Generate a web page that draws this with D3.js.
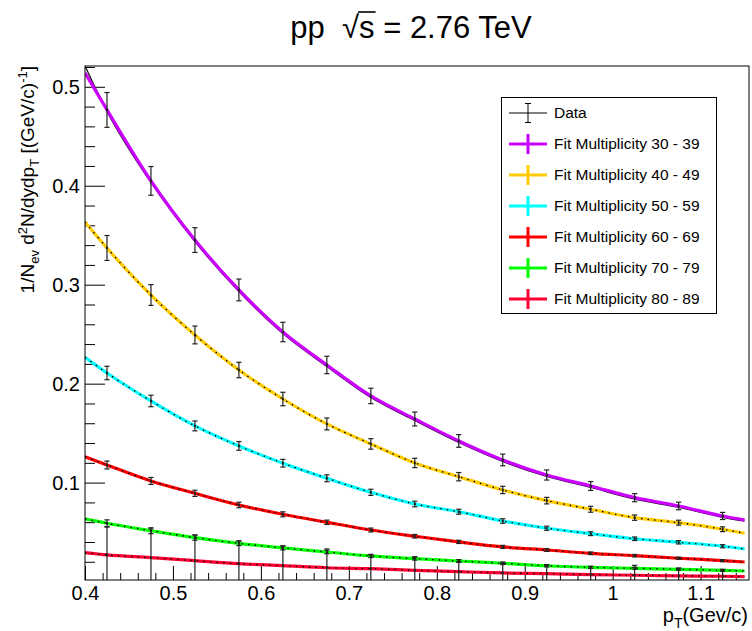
<!DOCTYPE html>
<html>
<head>
<meta charset="utf-8">
<script src="https://cdn.jsdelivr.net/npm/d3@7"></script>
<style>
  html, body { margin: 0; padding: 0; background: #fff; }
  svg { display: block; font-family: "Liberation Sans", Arial, Helvetica, sans-serif; }
</style>
</head>
<body>
<svg id="chart" width="752" height="631"></svg>
<script>
// transverse momentum bin centres of the measured points (GeV/c)
const pT = [0.425, 0.475, 0.525, 0.575, 0.625, 0.675, 0.725, 0.775, 0.825, 0.875, 0.925, 0.975, 1.025, 1.075, 1.125];
// abscissae at which the fitted functions are sampled
const fitPT = [0.4, 0.425, 0.475, 0.525, 0.575, 0.625, 0.675, 0.725, 0.775, 0.825, 0.875, 0.925, 0.975, 1.025, 1.075, 1.125, 1.15];

const multiplicityBins = ["30 - 39", "40 - 49", "50 - 59", "60 - 69", "70 - 79", "80 - 89"];

// measured yields and their uncertainties, one array per multiplicity class
const yield30 = [0.4766, 0.4049, 0.3451, 0.2947, 0.2522, 0.2189, 0.1876, 0.1643, 0.1421, 0.1229, 0.1077, 0.0966, 0.0848, 0.0764, 0.0663];
const err30   = [0.0176, 0.0145, 0.0125, 0.0110, 0.0098, 0.0088, 0.0078, 0.0070, 0.0064, 0.0059, 0.0051, 0.0045, 0.0041, 0.0038, 0.0036];
const yield40 = [0.3371, 0.2896, 0.2492, 0.2138, 0.1845, 0.1593, 0.1391, 0.1199, 0.1060, 0.0926, 0.0818, 0.0731, 0.0646, 0.0595, 0.0529];
const err40   = [0.0126, 0.0105, 0.0090, 0.0078, 0.0068, 0.0060, 0.0053, 0.0047, 0.0042, 0.0037, 0.0033, 0.0030, 0.0027, 0.0025, 0.0024];
const yield50 = [0.2108, 0.1825, 0.1573, 0.1371, 0.1196, 0.1044, 0.0902, 0.0784, 0.0706, 0.0612, 0.0539, 0.0484, 0.0433, 0.0397, 0.0357];
const err50   = [0.0068, 0.0058, 0.0050, 0.0044, 0.0039, 0.0035, 0.0031, 0.0028, 0.0025, 0.0023, 0.0021, 0.0019, 0.0018, 0.0017, 0.0016];
const yield60 = [0.1178, 0.1017, 0.0892, 0.0774, 0.0680, 0.0599, 0.0521, 0.0458, 0.0401, 0.0351, 0.0319, 0.0286, 0.0262, 0.0236, 0.0212];
const err60   = [0.0040, 0.0035, 0.0031, 0.0028, 0.0025, 0.0022, 0.0020, 0.0018, 0.0016, 0.0015, 0.0014, 0.0013, 0.0012, 0.0011, 0.0010];
const yield70 = [0.0589, 0.0514, 0.0444, 0.0387, 0.0340, 0.0299, 0.0259, 0.0232, 0.0208, 0.0185, 0.0160, 0.0144, 0.0134, 0.0124, 0.0114];
const err70   = [0.0035, 0.0030, 0.0026, 0.0023, 0.0020, 0.0018, 0.0016, 0.0015, 0.0014, 0.0013, 0.0012, 0.0011, 0.0010, 0.0010, 0.0010];
const yield80 = [0.0269, 0.0242, 0.0211, 0.0181, 0.0161, 0.0140, 0.0130, 0.0114, 0.0100, 0.0087, 0.0080, 0.0070, 0.0064, 0.0057, 0.0054];
const err80   = [0.0283, 0.0290, 0.0260, 0.0230, 0.0200, 0.0190, 0.0139, 0.0138, 0.0100, 0.0098, 0.0088, 0.0080, 0.0100, 0.0080, 0.0063];

// fitted functions sampled at fitPT
const fit30 = [0.5140, 0.4766, 0.4049, 0.3451, 0.2947, 0.2522, 0.2189, 0.1876, 0.1643, 0.1421, 0.1229, 0.1077, 0.0966, 0.0848, 0.0764, 0.0663, 0.0623];
const fit40 = [0.3634, 0.3371, 0.2896, 0.2492, 0.2138, 0.1845, 0.1593, 0.1391, 0.1199, 0.1060, 0.0926, 0.0818, 0.0731, 0.0646, 0.0595, 0.0529, 0.0488];
const fit50 = [0.2267, 0.2108, 0.1825, 0.1573, 0.1371, 0.1196, 0.1044, 0.0902, 0.0784, 0.0706, 0.0612, 0.0539, 0.0484, 0.0433, 0.0397, 0.0357, 0.0329];
const fit60 = [0.1262, 0.1178, 0.1017, 0.0892, 0.0774, 0.0680, 0.0599, 0.0521, 0.0458, 0.0401, 0.0351, 0.0319, 0.0286, 0.0262, 0.0236, 0.0212, 0.0198];
const fit70 = [0.0633, 0.0589, 0.0514, 0.0444, 0.0387, 0.0340, 0.0299, 0.0259, 0.0232, 0.0208, 0.0185, 0.0160, 0.0144, 0.0134, 0.0124, 0.0114, 0.0107];
const fit80 = [0.0292, 0.0269, 0.0242, 0.0211, 0.0181, 0.0161, 0.0140, 0.0130, 0.0114, 0.0100, 0.0087, 0.0080, 0.0070, 0.0064, 0.0057, 0.0054, 0.0050];
// reference curve drawn in black just under the 30-39 fit
const ref30 = [0.5210, 0.4752, 0.4033, 0.3435, 0.2932, 0.2507, 0.2174, 0.1861, 0.1628, 0.1406, 0.1214, 0.1062, 0.0951, 0.0834, 0.0750, 0.0650, 0.0610];

const xTicks = [0.4, 0.5, 0.6, 0.7, 0.8, 0.9, 1.0, 1.1];
const xTickLabels = ["0.4", "0.5", "0.6", "0.7", "0.8", "0.9", "1", "1.1"];
const yTicks = [0.1, 0.2, 0.3, 0.4, 0.5];
const yTickLabels = ["0.1", "0.2", "0.3", "0.4", "0.5"];

const seriesColors = ["#cc00ff", "#ffcc00", "#00ffff", "#ff0000", "#00ff00", "#ff0033"];
const yields = [yield30, yield40, yield50, yield60, yield70, yield80];
const errors = [err30, err40, err50, err60, err70, err80];
const fits = [fit30, fit40, fit50, fit60, fit70, fit80];

const svg = d3.select("#chart");
const frame = { left: 85, top: 66, right: 749, bottom: 580 };

const x = d3.scaleLinear().domain([0.4, 1.155]).range([frame.left, frame.right]);
const y = d3.scaleLinear().domain([0.0016, 0.521]).range([frame.bottom, frame.top]);

svg.append("defs").append("clipPath").attr("id", "plot-area")
  .append("rect")
  .attr("x", frame.left).attr("y", frame.top)
  .attr("width", frame.right - frame.left).attr("height", frame.bottom - frame.top);

// ---- axes (ticks drawn inward, as in a ROOT canvas) ----
const xMinor = d3.range(0.42, 1.155, 0.02).map(v => +v.toFixed(2)).filter(v => Math.abs(v * 10 - Math.round(v * 10)) > 1e-6);
const yMinor = d3.range(0.02, 0.521, 0.02).map(v => +v.toFixed(2)).filter(v => Math.abs(v * 10 - Math.round(v * 10)) > 1e-6);

function styleAxis(g, size) {
  g.select(".domain").remove();
  g.selectAll(".tick line").attr("stroke", "#000").attr("stroke-width", 1);
  g.selectAll(".tick text").attr("fill", "#000").attr("font-size", size)
    .attr("font-family", "'Liberation Sans', Arial, Helvetica, sans-serif");
  g.attr("font-family", null).attr("font-size", null);
}

svg.append("g").attr("transform", `translate(0,${frame.bottom})`)
  .call(d3.axisBottom(x).tickValues(xMinor).tickSizeInner(-7).tickSizeOuter(0).tickFormat(""))
  .call(g => styleAxis(g, 20));
svg.append("g").attr("transform", `translate(0,${frame.bottom})`)
  .call(d3.axisBottom(x).tickValues(xTicks).tickSizeInner(-14).tickSizeOuter(0).tickPadding(6)
    .tickFormat((d, i) => xTickLabels[i]))
  .call(g => styleAxis(g, 20));

svg.append("g").attr("transform", `translate(${frame.left},0)`)
  .call(d3.axisLeft(y).tickValues(yMinor).tickSizeInner(-10).tickSizeOuter(0).tickFormat(""))
  .call(g => styleAxis(g, 20));
svg.append("g").attr("transform", `translate(${frame.left},0)`)
  .call(d3.axisLeft(y).tickValues(yTicks).tickSizeInner(-20).tickSizeOuter(0).tickPadding(5)
    .tickFormat((d, i) => yTickLabels[i]))
  .call(g => styleAxis(g, 20));

// ---- curves and points ----
const plot = svg.append("g").attr("clip-path", "url(#plot-area)");
const line = d3.line().x(d => x(d[0])).y(d => y(d[1])).curve(d3.curveMonotoneX);

// thin black curve first so the coloured fit sits on top of it
plot.append("path")
  .attr("d", line(fitPT.map((p, i) => [p, ref30[i]])))
  .attr("fill", "none").attr("stroke", "#111").attr("stroke-width", 1.3);

fits.forEach((f, s) => {
  plot.append("path")
    .attr("d", line(fitPT.map((p, i) => [p, f[i]])))
    .attr("fill", "none").attr("stroke", seriesColors[s]).attr("stroke-width", 3.2);
});

// dotted black trace along the lower fits
fits.slice(1).forEach(f => {
  plot.append("path")
    .attr("d", line(fitPT.map((p, i) => [p, f[i]])))
    .attr("fill", "none").attr("stroke", "#000").attr("stroke-width", 1.4)
    .attr("stroke-dasharray", "1.4 5.2");
});

const cap = 2.6;
yields.forEach((vals, s) => {
  const g = plot.append("g").attr("stroke", "#222").attr("stroke-width", 1.2);
  vals.forEach((v, j) => {
    const px = x(pT[j]);
    const top = y(v + errors[s][j]);
    const bot = y(v - errors[s][j]);
    g.append("line").attr("x1", px).attr("x2", px).attr("y1", top).attr("y2", bot);
    g.append("line").attr("x1", px - cap).attr("x2", px + cap).attr("y1", top).attr("y2", top);
    g.append("line").attr("x1", px - cap).attr("x2", px + cap).attr("y1", bot).attr("y2", bot);
    g.append("rect").attr("x", px - 1).attr("y", y(v) - 1).attr("width", 2).attr("height", 2)
      .attr("fill", "#222").attr("stroke", "none");
  });
});

// frame
svg.append("rect")
  .attr("x", frame.left).attr("y", frame.top)
  .attr("width", frame.right - frame.left).attr("height", frame.bottom - frame.top)
  .attr("fill", "none").attr("stroke", "#000").attr("stroke-width", 1);

// ---- title ----
const title = svg.append("text")
  .attr("x", 411).attr("y", 38).attr("text-anchor", "middle")
  .attr("font-size", 31).attr("fill", "#000")
  .style("white-space", "pre");
title.append("tspan").text("pp  ");
title.append("tspan").text("\u221A");
title.append("tspan").text("s");
title.append("tspan").text(" = 2.76 TeV");
{
  const node = title.node();
  const root = node.getExtentOfChar(4);
  const s = node.getExtentOfChar(5);
  const barY = root.y + 2;
  svg.append("line")
    .attr("x1", root.x + root.width - 1).attr("x2", s.x + s.width + 1)
    .attr("y1", barY).attr("y2", barY)
    .attr("stroke", "#000").attr("stroke-width", 1.6);
}

// ---- axis titles ----
const xTitle = svg.append("text")
  .attr("x", 748).attr("y", 622).attr("text-anchor", "end")
  .attr("font-size", 20).attr("fill", "#000");
xTitle.append("tspan").text("p");
xTitle.append("tspan").attr("font-size", 14).attr("dy", 6).text("T");
xTitle.append("tspan").attr("dy", -6).text("(Gev/c)");

const yTitle = svg.append("text")
  .attr("transform", "translate(34,66) rotate(-90)")
  .attr("text-anchor", "end").attr("font-size", 19).attr("fill", "#000")
  .style("white-space", "pre");
yTitle.append("tspan").text("1/N");
yTitle.append("tspan").attr("font-size", 13).attr("dy", 5).text("ev");
yTitle.append("tspan").attr("dy", -5).text(" d");
yTitle.append("tspan").attr("font-size", 13).attr("dy", -7).text("2");
yTitle.append("tspan").attr("dy", 7).text("N/dydp");
yTitle.append("tspan").attr("font-size", 13).attr("dy", 5).text("T");
yTitle.append("tspan").attr("dy", -5).text(" [(GeV/c)");
yTitle.append("tspan").attr("font-size", 13).attr("dy", -7).text("-1");
yTitle.append("tspan").attr("dy", 7).text("]");

// ---- legend ----
const legend = svg.append("g");
legend.append("rect")
  .attr("x", 501.5).attr("y", 97.5).attr("width", 215).attr("height", 216)
  .attr("fill", "#fff").attr("stroke", "#000").attr("stroke-width", 1);

const rowY = i => 113 + i * 31;
const symX0 = 509, symX1 = 547, symXc = 528;

// data entry
{
  const yy = rowY(0);
  const g = legend.append("g").attr("stroke", "#000").attr("stroke-width", 1);
  g.append("line").attr("x1", symX0).attr("x2", symX1).attr("y1", yy).attr("y2", yy);
  g.append("line").attr("x1", symXc).attr("x2", symXc).attr("y1", yy - 9.5).attr("y2", yy + 9.5);
  g.append("line").attr("x1", symXc - 3).attr("x2", symXc + 3).attr("y1", yy - 9.5).attr("y2", yy - 9.5);
  g.append("line").attr("x1", symXc - 3).attr("x2", symXc + 3).attr("y1", yy + 9.5).attr("y2", yy + 9.5);
  legend.append("text").attr("x", 554).attr("y", yy).attr("dy", "0.35em")
    .attr("font-size", 15.5).attr("fill", "#000").text("Data");
}
multiplicityBins.forEach((label, i) => {
  const yy = rowY(i + 1);
  const g = legend.append("g").attr("stroke", seriesColors[i]).attr("stroke-width", 3);
  g.append("line").attr("x1", symX0).attr("x2", symX1).attr("y1", yy).attr("y2", yy);
  g.append("line").attr("x1", symXc).attr("x2", symXc).attr("y1", yy - 10).attr("y2", yy + 10);
  legend.append("text").attr("x", 554).attr("y", yy).attr("dy", "0.35em")
    .attr("font-size", 15.5).attr("fill", "#000").text("Fit Multiplicity " + label);
});
</script>
</body>
</html>
